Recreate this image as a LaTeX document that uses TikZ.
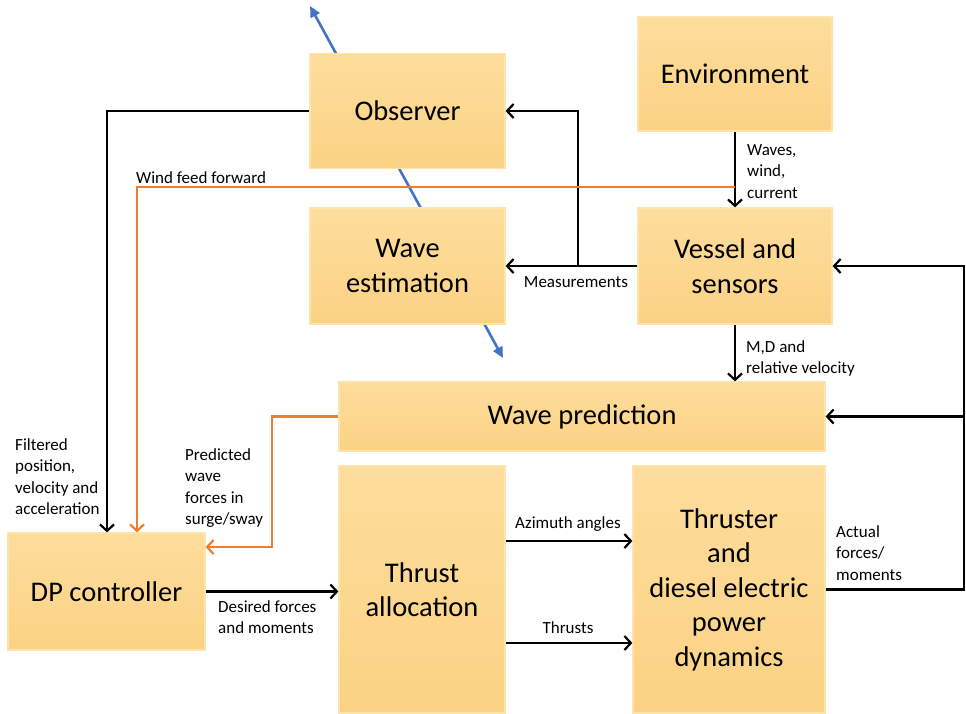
\documentclass[tikz,border=0pt]{standalone}
\usepackage{fontspec}
\setmainfont{Carlito}
\usetikzlibrary{arrows.meta,calc}
\definecolor{boxtop}{RGB}{253,221,156}
\definecolor{boxbot}{RGB}{251,210,132}
\definecolor{boxedge}{RGB}{252,228,170}
\definecolor{oline}{RGB}{237,125,49}
\definecolor{bline}{RGB}{68,114,196}
\tikzset{
  box/.style={rectangle, inner sep=0pt, top color=boxtop, bottom color=boxbot, draw=boxedge, line width=1.2pt,
    font=\fontsize{28.5}{34.5}\selectfont, align=center, text=black},
  arr/.style={draw=black, line width=2.2pt, -{Straight Barb[length=6.5pt,width=14pt]}},
  oarr/.style={draw=oline, line width=2.2pt, -{Straight Barb[length=6.5pt,width=14pt]}},
  barr/.style={draw=bline, line width=2.6pt, {Triangle[length=11pt,width=10pt]}-{Triangle[length=11pt,width=10pt]}},
  lbl/.style={inner sep=0pt, font=\fontsize{17}{21.5}\selectfont, align=left},
}
\begin{document}
\begin{tikzpicture}[x=1pt,y=-1pt]
\useasboundingbox (0,0) rectangle (966,713);
% blue double arrow behind the boxes
\coordinate (bt) at (310,6);
\coordinate (bb) at (503,358);
\draw[barr] (bb) -- (bt);
% boxes
\node[box, minimum width=195pt, minimum height=115pt] (obs) at (407.5,111) {Observer};
\node[box, minimum width=195pt, minimum height=116pt] (west) at (407.5,266) {Wave\\estimation};
\node[box, minimum width=194pt, minimum height=114pt] (env) at (735,74) {Environment};
\node[box, minimum width=194pt, minimum height=116pt] (ves) at (735,266) {Vessel and\\sensors};
\node[box, minimum width=486pt, minimum height=69pt] (wpred) at (582,416.5) {Wave prediction};
\node[box, minimum width=197pt, minimum height=117pt] (dp) at (106.5,591.5) {DP controller};
\node[box, minimum width=166pt, minimum height=247pt] (ta) at (422,589.5) {Thrust\\allocation};
\node[box, minimum width=192pt, minimum height=247pt] (thr) at (729,589.5) {Thruster\\and\\diesel electric\\power\\dynamics};
% connectors
\draw[arr] (obs.west) -| (dp.north -| 107,0);
\draw[arr] (ves.west) -- (west.east);
\draw[arr] (ves.west -| 578,0) |- (obs.east);
\draw[arr] (env) -- (ves);
\draw[oarr] (env.south |- 0,187) -| (dp.north -| 137,0);
\draw[arr] (ves.south) -- (ves.south |- wpred.north);
\coordinate (pb) at (272,547);
\draw[oarr] (wpred.west) -| (pb) -- (pb -| dp.east);
\draw[arr] (dp.east) -- (dp.east -| ta.west);
\draw[arr] (ta.east |- 0,541) -- (thr.west |- 0,541);
\draw[arr] (ta.east |- 0,643) -- (thr.west |- 0,643);
\coordinate (fb) at (964,266);
\draw[arr] (thr.east) -| (fb) -- (ves.east);
\draw[arr] (fb |- wpred.east) -- (wpred.east);
% labels
\node[lbl, anchor=west] (l1) at (136,178) {Wind feed forward};
\node[lbl, anchor=north west] (l2) at (747,144) {Waves,\\wind,\\current};
\node[lbl] (l3) at (576,282) {Measurements};
\node[lbl, anchor=north west] (l4) at (746,340) {M,D and\\relative velocity};
\node[lbl, anchor=north west] (l5) at (15,438) {Filtered\\position,\\velocity and\\acceleration};
\node[lbl, anchor=north west] (l6) at (185,448) {Predicted\\wave\\forces in\\surge/sway};
\node[lbl, anchor=north west] (l7) at (218,600) {Desired forces\\and moments};
\node[lbl] (l8) at (568,524) {Azimuth angles};
\node[lbl] (l9) at (568,628) {Thrusts};
\node[lbl, anchor=north west] (l10) at (836,525) {Actual\\forces/\\moments};
\end{tikzpicture}
\end{document}
